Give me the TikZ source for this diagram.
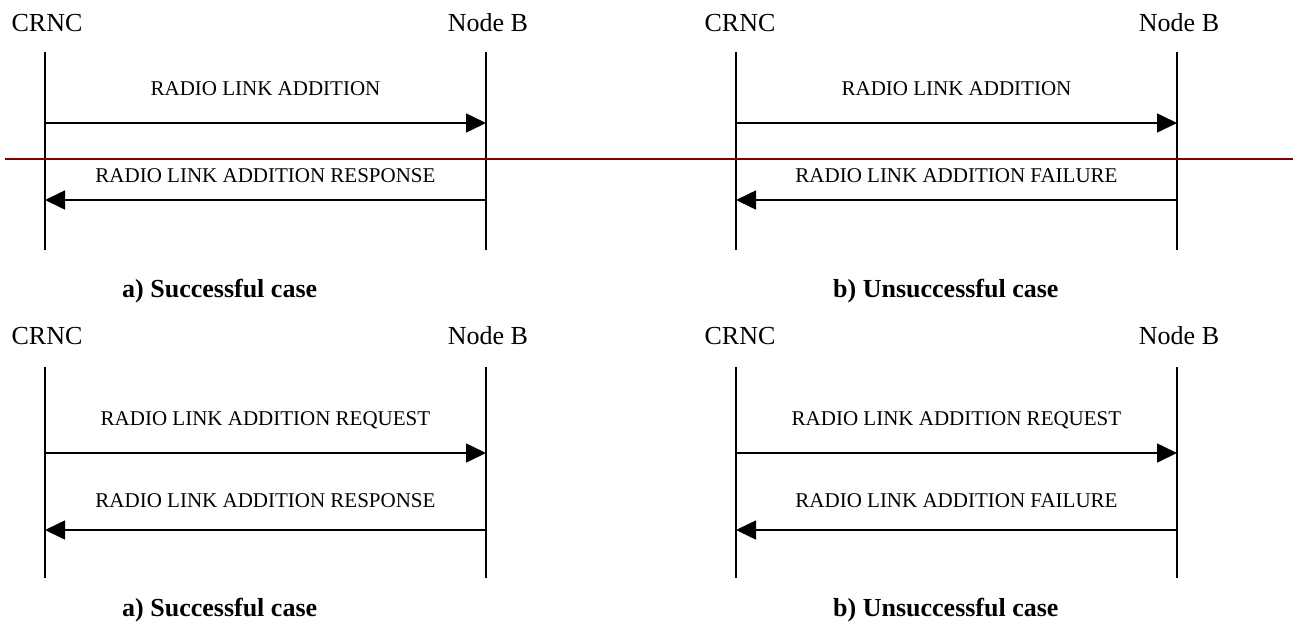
\documentclass[tikz,border=0pt]{standalone}
\usepackage{fontspec}
\setmainfont{Liberation Serif}
\usetikzlibrary{arrows.meta}
\definecolor{sepred}{RGB}{128,0,0}
\begin{document}
\begin{tikzpicture}[x=1pt,y=-1pt,
  life/.style={line width=1.6pt,black},
  msg/.style={line width=1.6pt,black,-{Triangle[length=20pt,width=19pt]}},
  titlelbl/.style={font=\fontsize{26}{30}\selectfont,anchor=base,inner sep=0pt},
  msglbl/.style={font=\fontsize{21}{25}\selectfont,anchor=base,inner sep=0pt},
  caplbl/.style={font=\fontsize{26}{30}\selectfont\bfseries,anchor=base west,inner sep=0pt},
  sepline/.style={line width=1.6pt,sepred}]
\useasboundingbox (0,0) rectangle (1296,625);
% ---------- panel 1 (top left) ----------
\node[titlelbl] (t1c) at (47,31) {CRNC};
\node[titlelbl] (t1n) at (488,31) {Node B};
\coordinate (l1ct) at (45,52);  \coordinate (l1cb) at (45,250);
\coordinate (l1nt) at (486,52); \coordinate (l1nb) at (486,250);
\draw[life] (l1ct) -- (l1cb);
\draw[life] (l1nt) -- (l1nb);
\coordinate (p1a1) at (45,123);  \coordinate (p1b1) at (486,123);
\coordinate (p1a2) at (45,200);  \coordinate (p1b2) at (486,200);
\draw[msg] (p1a1) -- (p1b1);
\draw[msg] (p1b2) -- (p1a2);
\node[msglbl] (m1a) at (265.5,95) {RADIO LINK ADDITION};
\node[msglbl] (m1b) at (265.5,182) {RADIO LINK ADDITION RESPONSE};
\node[caplbl] (c1) at (122,297) {a) Successful case};
% ---------- panel 2 (top right) ----------
\node[titlelbl] (t2c) at (740,31) {CRNC};
\node[titlelbl] (t2n) at (1179,31) {Node B};
\coordinate (l2ct) at (736,52);  \coordinate (l2cb) at (736,250);
\coordinate (l2nt) at (1177,52); \coordinate (l2nb) at (1177,250);
\draw[life] (l2ct) -- (l2cb);
\draw[life] (l2nt) -- (l2nb);
\coordinate (p2a1) at (736,123);  \coordinate (p2b1) at (1177,123);
\coordinate (p2a2) at (736,200);  \coordinate (p2b2) at (1177,200);
\draw[msg] (p2a1) -- (p2b1);
\draw[msg] (p2b2) -- (p2a2);
\node[msglbl] (m2a) at (956.5,95) {RADIO LINK ADDITION};
\node[msglbl] (m2b) at (956.5,182) {RADIO LINK ADDITION FAILURE};
\node[caplbl] (c2) at (833,297) {b) Unsuccessful case};
% ---------- separator ----------
\coordinate (sepL) at (5,159); \coordinate (sepR) at (1293,159);
\draw[sepline] (sepL) -- (sepR);
% ---------- panel 3 (bottom left) ----------
\node[titlelbl] (t3c) at (47,344) {CRNC};
\node[titlelbl] (t3n) at (488,344) {Node B};
\coordinate (l3ct) at (45,367);  \coordinate (l3cb) at (45,578);
\coordinate (l3nt) at (486,367); \coordinate (l3nb) at (486,578);
\draw[life] (l3ct) -- (l3cb);
\draw[life] (l3nt) -- (l3nb);
\coordinate (p3a1) at (45,453);  \coordinate (p3b1) at (486,453);
\coordinate (p3a2) at (45,530);  \coordinate (p3b2) at (486,530);
\draw[msg] (p3a1) -- (p3b1);
\draw[msg] (p3b2) -- (p3a2);
\node[msglbl] (m3a) at (265.5,425) {RADIO LINK ADDITION REQUEST};
\node[msglbl] (m3b) at (265.5,507) {RADIO LINK ADDITION RESPONSE};
\node[caplbl] (c3) at (122,616) {a) Successful case};
% ---------- panel 4 (bottom right) ----------
\node[titlelbl] (t4c) at (740,344) {CRNC};
\node[titlelbl] (t4n) at (1179,344) {Node B};
\coordinate (l4ct) at (736,367);  \coordinate (l4cb) at (736,578);
\coordinate (l4nt) at (1177,367); \coordinate (l4nb) at (1177,578);
\draw[life] (l4ct) -- (l4cb);
\draw[life] (l4nt) -- (l4nb);
\coordinate (p4a1) at (736,453);  \coordinate (p4b1) at (1177,453);
\coordinate (p4a2) at (736,530);  \coordinate (p4b2) at (1177,530);
\draw[msg] (p4a1) -- (p4b1);
\draw[msg] (p4b2) -- (p4a2);
\node[msglbl] (m4a) at (956.5,425) {RADIO LINK ADDITION REQUEST};
\node[msglbl] (m4b) at (956.5,507) {RADIO LINK ADDITION FAILURE};
\node[caplbl] (c4) at (833,616) {b) Unsuccessful case};
\end{tikzpicture}
\end{document}
